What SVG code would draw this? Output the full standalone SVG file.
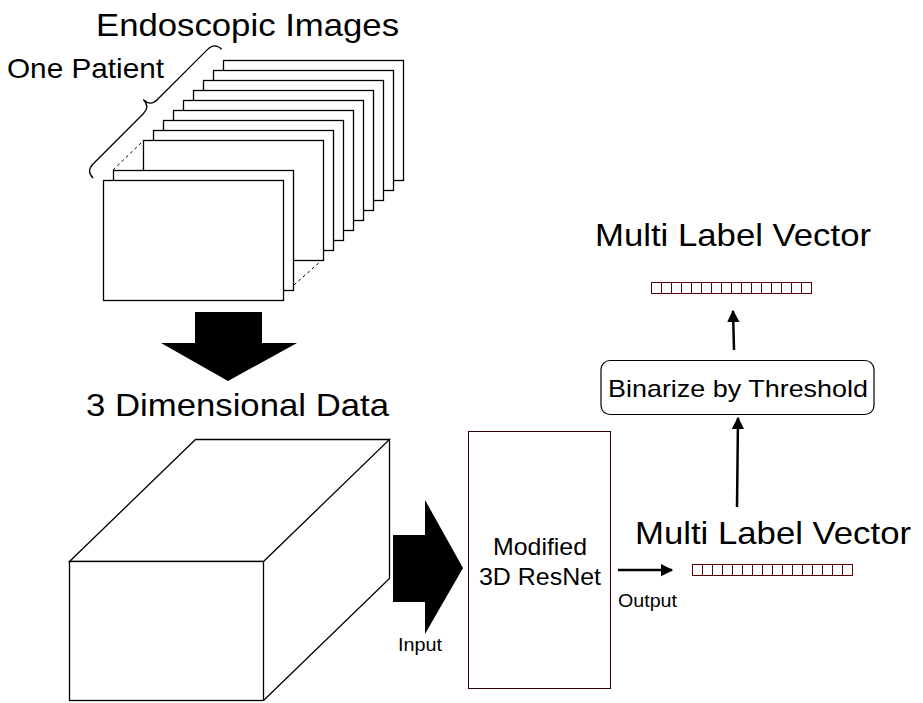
<svg xmlns="http://www.w3.org/2000/svg" width="923" height="703" viewBox="0 0 923 703">
<style>
text{font-family:"Liberation Sans",Arial,sans-serif;fill:#000}
.big{font-size:32px}
.mid{font-size:24px}
.sm{font-size:18px}
.page{fill:#fff;stroke:#000;stroke-width:1.3}
.line{fill:none;stroke:#000;stroke-width:1.3}
.cell{fill:#fff;stroke:#5a0000;stroke-width:1}
.arr{fill:none;stroke:#000;stroke-width:2.5}
</style>
<defs>
<marker id="ah" viewBox="0 0 10 10" refX="9" refY="5" markerWidth="5" markerHeight="5.5" markerUnits="strokeWidth" orient="auto">
<path d="M0,0 L10,5 L0,10 Z" fill="#000"/>
</marker>
<g id="vec">
<rect class="cell" x="0" y="0" width="160" height="11"/>
<path class="cell" d="M10,0V11M20,0V11M30,0V11M40,0V11M50,0V11M60,0V11M70,0V11M80,0V11M90,0V11M100,0V11M110,0V11M120,0V11M130,0V11M140,0V11M150,0V11"/>
</g>
</defs>
<rect width="923" height="703" fill="#fff"/>

<g id="stack">
<rect class="page" x="223.5" y="60.5" width="180" height="120"/>
<rect class="page" x="213.5" y="70.5" width="180" height="120"/>
<rect class="page" x="203.5" y="80.5" width="180" height="120"/>
<rect class="page" x="193.5" y="90.5" width="180" height="120"/>
<rect class="page" x="183.5" y="100.5" width="180" height="120"/>
<rect class="page" x="173.5" y="110.5" width="180" height="120"/>
<rect class="page" x="163.5" y="120.5" width="180" height="120"/>
<rect class="page" x="153.5" y="130.5" width="180" height="120"/>
<rect class="page" x="143.5" y="140.5" width="180" height="120"/>
<path d="M113,170 L143,141 M294,285 L321,261" fill="none" stroke="#000" stroke-width="1" stroke-dasharray="3,3"/>
<rect class="page" x="113.5" y="170.5" width="180" height="120"/>
<rect class="page" x="103.5" y="180.5" width="180" height="120"/>
</g>

<g id="brace">
<path class="line" transform="translate(86,171) rotate(-45)" d="M0,10 Q0,0 10,0 L81,0 Q91,0 91,-10 Q91,0 101,0 L172,0 Q182,0 182,10"/>
</g>

<g id="labels">
<text class="big" x="96" y="36" textLength="303" lengthAdjust="spacingAndGlyphs">Endoscopic Images</text>
<text x="7" y="78" font-size="28" textLength="157" lengthAdjust="spacingAndGlyphs">One Patient</text>
<text class="big" x="86" y="416" textLength="303" lengthAdjust="spacingAndGlyphs">3 Dimensional Data</text>
<text class="big" x="595" y="246" textLength="276" lengthAdjust="spacingAndGlyphs">Multi Label Vector</text>
<text class="big" x="635" y="544" textLength="276" lengthAdjust="spacingAndGlyphs">Multi Label Vector</text>
</g>

<g id="down-arrow">
<polygon points="195,312 262,312 262,343 297,343 228,381 161,343 195,343" fill="#000"/>
</g>

<g id="cube">
<path class="line" d="M69.5,561.5 L195.5,439.5 L389.5,439.5 L263.5,561.5 Z"/>
<path class="line" d="M389.5,439.5 L389.5,578.5 L263.5,700.5"/>
<rect class="page" x="69.5" y="561.5" width="194" height="139"/>
</g>

<g id="input-arrow">
<polygon points="393,535 425,535 425,500 463,568 425,634 425,602 393,602" fill="#000"/>
<text class="sm" x="398" y="651" textLength="44" lengthAdjust="spacingAndGlyphs">Input</text>
</g>

<g id="resnet">
<rect x="468.5" y="431.5" width="142" height="257" fill="#fff" stroke="#330000" stroke-width="1"/>
<text class="mid" x="493" y="555" textLength="94" lengthAdjust="spacingAndGlyphs">Modified</text>
<text class="mid" x="479" y="585" textLength="122" lengthAdjust="spacingAndGlyphs">3D ResNet</text>
</g>

<g id="vector-out">
<use href="#vec" x="692.5" y="564.5"/>
</g>

<g id="vector-top">
<use href="#vec" x="651.5" y="282.5"/>
</g>

<g id="binarize">
<rect x="601" y="360.5" width="273" height="54" rx="9" fill="#fff" stroke="#000" stroke-width="1.2"/>
<text class="mid" x="608" y="397" textLength="260" lengthAdjust="spacingAndGlyphs">Binarize by Threshold</text>
</g>

<g id="connectors">
<line class="arr" x1="618" y1="570" x2="672" y2="570" stroke-width="2" marker-end="url(#ah)"/>
<text class="sm" x="618" y="607" textLength="59" lengthAdjust="spacingAndGlyphs">Output</text>
<line class="arr" x1="737" y1="507" x2="738" y2="418" marker-end="url(#ah)"/>
<line class="arr" x1="734" y1="350" x2="733" y2="311" marker-end="url(#ah)"/>
</g>
</svg>
